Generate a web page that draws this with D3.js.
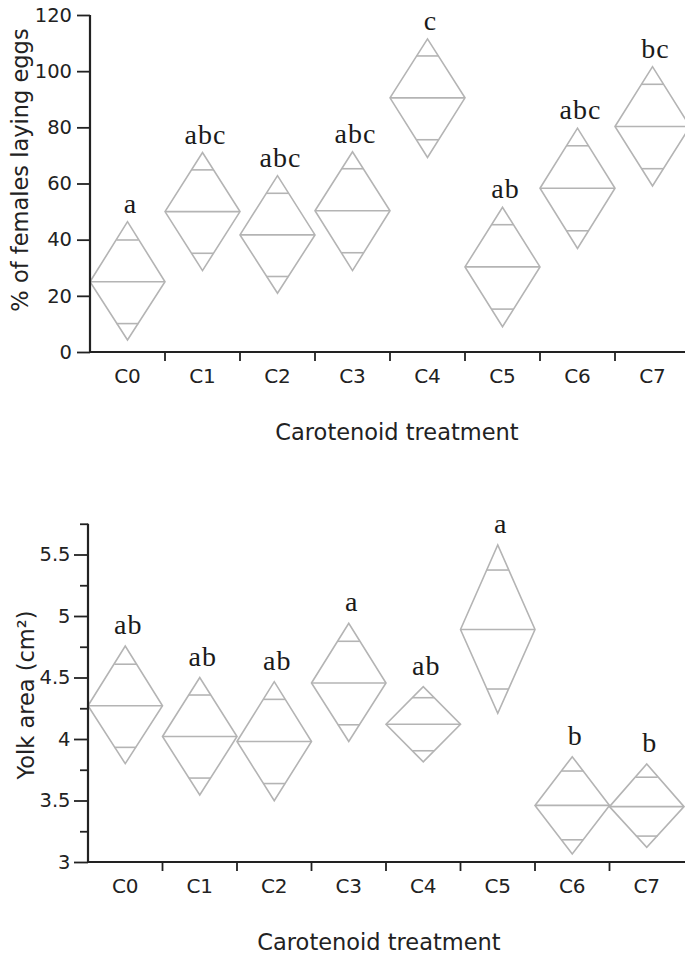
<!DOCTYPE html>
<html>
<head>
<meta charset="utf-8">
<script src="https://cdn.jsdelivr.net/npm/d3@7"></script>
<style>
  body { margin: 0; background: #fff; }
  .tick text { font-family: "DejaVu Sans", sans-serif; fill: #222; }
</style>
</head>
<body>
<div class="chart"></div>
<script>
const categories = ["C0", "C1", "C2", "C3", "C4", "C5", "C6", "C7"];

// % of females laying eggs: mean and diamond ends
const eggMean = [25, 50, 41.7, 50.3, 90.5, 30.3, 58.3, 80.3];
const eggUpper = [46.4, 71.0, 62.8, 71.3, 111.5, 51.5, 79.7, 101.6];
const eggLower = [4.3, 29.0, 20.9, 29.0, 69.3, 9.0, 36.9, 59.1];
const eggLetters = ["a", "abc", "abc", "abc", "c", "ab", "abc", "bc"];
const eggTicks = [0, 20, 40, 60, 80, 100, 120];

// yolk area (cm2)
const yolkMean = [4.27, 4.02, 3.98, 4.455, 4.12, 4.89, 3.46, 3.45];
const yolkUpper = [4.756, 4.5, 4.466, 4.94, 4.425, 5.577, 3.856, 3.797];
const yolkLower = [3.8, 3.545, 3.498, 3.98, 3.815, 4.209, 3.065, 3.12];
const yolkLetters = ["ab", "ab", "ab", "a", "ab", "a", "b", "b"];
const yolkTicks = [3, 3.5, 4, 4.5, 5, 5.5];
const yolkMinor = [3.25, 3.75, 4.25, 4.75, 5.25, 5.75];

const svg = d3
  .select(".chart")
  .append("svg")
  .attr("width", 685)
  .attr("height", 955);

function panel(opts) {
  const rows = categories.map((c, i) => ({
    cat: c,
    mean: opts.mean[i],
    upper: opts.upper[i],
    lower: opts.lower[i],
    letter: opts.letters[i]
  }));

  const x = d3.scaleBand().domain(categories).range([opts.left, opts.right]);
  const y = d3.scaleLinear().domain(opts.domain).range([opts.bottom, opts.top]);

  const g = svg.append("g");

  // diamonds
  const d = g.selectAll("g.diamond").data(rows).join("g").attr("class", "diamond");
  d.append("path")
    .attr("fill", "none")
    .attr("stroke", "#b4b4b4")
    .attr("stroke-width", 1.6)
    .attr("d", (r) => {
      const x0 = x(r.cat), x1 = x0 + x.bandwidth(), xm = x0 + x.bandwidth() / 2;
      return `M${x0},${y(r.mean)}L${xm},${y(r.upper)}L${x1},${y(r.mean)}L${xm},${y(r.lower)}Z`;
    });
  d.append("line")
    .attr("stroke", "#b4b4b4")
    .attr("stroke-width", 1.6)
    .attr("x1", (r) => x(r.cat))
    .attr("x2", (r) => x(r.cat) + x.bandwidth())
    .attr("y1", (r) => y(r.mean))
    .attr("y2", (r) => y(r.mean));

  // overlap marks at mean +/- half / sqrt(2)
  [1, -1].forEach((s) => {
    d.append("line")
      .attr("stroke", "#b4b4b4")
      .attr("stroke-width", 1.6)
      .each(function (r) {
        const half = (r.upper - r.lower) / 2;
        const v = r.mean + (s * half) / Math.SQRT2;
        const frac = Math.abs(v - r.mean) / half;
        const hw = (x.bandwidth() / 2) * (1 - frac);
        const xm = x(r.cat) + x.bandwidth() / 2;
        d3.select(this)
          .attr("x1", xm - hw)
          .attr("x2", xm + hw)
          .attr("y1", y(v))
          .attr("y2", y(v));
      });
  });

  // significance letters
  g.selectAll("text.letter")
    .data(rows)
    .join("text")
    .attr("class", "letter")
    .attr("x", (r) => x(r.cat) + x.bandwidth() / 2 + 3)
    .attr("y", (r) => y(r.upper) - opts.letterGap)
    .attr("text-anchor", "middle")
    .attr("font-family", "Liberation Serif, serif")
    .attr("font-size", "28px")
    .attr("letter-spacing", "1px")
    .attr("fill", "#1a1a1a")
    .text((r) => r.letter);

  // y axis
  const yAxis = d3
    .axisLeft(y)
    .tickValues(opts.ticks)
    .tickSize(opts.tickSize)
    .tickPadding(opts.tickPad)
    .tickFormat(d3.format("~g"));
  const yg = g
    .append("g")
    .attr("transform", `translate(${opts.left},0)`)
    .call(yAxis);
  yg.select(".domain").remove();
  yg.selectAll(".tick line").attr("stroke", "#222").attr("stroke-width", 1.8);
  yg.selectAll(".tick text").attr("font-size", "19.5px");

  if (opts.minor) {
    const mg = g
      .append("g")
      .attr("transform", `translate(${opts.left},0)`)
      .call(d3.axisLeft(y).tickValues(opts.minor).tickSize(8).tickFormat(""));
    mg.select(".domain").remove();
    mg.selectAll(".tick line").attr("stroke", "#222").attr("stroke-width", 1.8);
  }

  g.append("line")
    .attr("x1", opts.left)
    .attr("x2", opts.left)
    .attr("y1", y(opts.domain[1]))
    .attr("y2", y(opts.domain[0]) + 1)
    .attr("stroke", "#222")
    .attr("stroke-width", 2.2);

  // x axis
  const xg = g
    .append("g")
    .attr("transform", `translate(0,${opts.bottom})`)
    .call(d3.axisBottom(x).tickSize(0).tickPadding(17));
  xg.select(".domain").remove();
  xg.selectAll(".tick text").attr("font-size", "20px");

  g.append("line")
    .attr("x1", opts.left)
    .attr("x2", 685)
    .attr("y1", opts.bottom)
    .attr("y2", opts.bottom)
    .attr("stroke", "#222")
    .attr("stroke-width", 2.2);

  g.selectAll("line.xtick")
    .data(categories.slice(1))
    .join("line")
    .attr("class", "xtick")
    .attr("x1", (c) => x(c))
    .attr("x2", (c) => x(c))
    .attr("y1", opts.bottom)
    .attr("y2", opts.bottom + 9)
    .attr("stroke", "#222")
    .attr("stroke-width", 1.8);

  // titles
  g.append("text")
    .attr("x", opts.xTitleX)
    .attr("y", opts.xTitleY)
    .attr("text-anchor", "middle")
    .attr("font-family", "DejaVu Sans, sans-serif")
    .attr("font-size", "22.5px")
    .attr("fill", "#222")
    .text("Carotenoid treatment");

  g.append("text")
    .attr("transform", `translate(${opts.yTitleX},${opts.yTitleY}) rotate(-90)`)
    .attr("text-anchor", "middle")
    .attr("font-family", "DejaVu Sans, sans-serif")
    .attr("font-size", "22.5px")
    .attr("fill", "#222")
    .text(opts.yTitle);
}

panel({
  mean: eggMean,
  upper: eggUpper,
  lower: eggLower,
  letters: eggLetters,
  domain: [0, 120],
  ticks: eggTicks,
  left: 90,
  right: 690,
  top: 15,
  bottom: 352,
  tickSize: 13,
  tickPad: 5,
  letterGap: 9,
  xTitleX: 397,
  xTitleY: 440,
  yTitleX: 28,
  yTitleY: 170,
  yTitle: "% of females laying eggs"
});

panel({
  mean: yolkMean,
  upper: yolkUpper,
  lower: yolkLower,
  letters: yolkLetters,
  domain: [3, 5.75],
  ticks: yolkTicks,
  minor: yolkMinor,
  left: 88,
  right: 684,
  top: 523.75,
  bottom: 862,
  tickSize: 14,
  tickPad: 3.5,
  letterGap: 12,
  xTitleX: 379,
  xTitleY: 950,
  yTitleX: 34,
  yTitleY: 695,
  yTitle: "Yolk area (cm²)"
});
</script>
</body>
</html>
